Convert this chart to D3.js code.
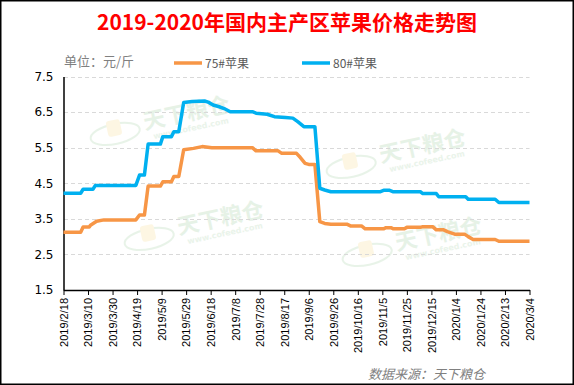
<!DOCTYPE html>
<html>
<head>
<meta charset="utf-8">
<script src="https://cdn.jsdelivr.net/npm/d3@7"></script>
<style>
  body { margin: 0; background: #fff; }
  svg { display: block; }
</style>
</head>
<body>
<div class="apple-chart"></div>
<script>
// 75# apple price (元/斤)
const dates75 = ["2019-02-18","2019-03-04","2019-03-06","2019-03-11","2019-03-12","2019-03-17","2019-03-23","2019-04-18",
  "2019-04-21","2019-04-25","2019-04-28","2019-05-08","2019-05-10","2019-05-17","2019-05-19","2019-05-23","2019-05-27",
  "2019-06-04","2019-06-11","2019-06-19","2019-07-22","2019-07-25","2019-08-12","2019-08-15","2019-08-27","2019-08-30",
  "2019-09-03","2019-09-06","2019-09-11","2019-09-15","2019-09-19","2019-09-24","2019-10-07","2019-10-10","2019-10-19",
  "2019-10-22","2019-11-06","2019-11-08","2019-11-12","2019-11-14","2019-11-23","2019-11-25","2019-12-06","2019-12-08",
  "2019-12-16","2019-12-19","2019-12-25","2019-12-28","2020-01-03","2020-01-11","2020-01-14","2020-01-18","2020-02-05",
  "2020-02-08","2020-03-04"];
const price75 = [3.12,3.12,3.27,3.27,3.32,3.43,3.47,3.47,
  3.61,3.61,4.42,4.42,4.54,4.54,4.69,4.69,5.44,
  5.48,5.53,5.50,5.50,5.41,5.41,5.34,5.34,5.23,
  5.06,5.03,5.03,3.42,3.37,3.35,3.35,3.30,3.30,
  3.22,3.22,3.25,3.25,3.22,3.22,3.26,3.26,3.28,
  3.28,3.19,3.19,3.14,3.07,3.07,3.00,2.92,2.92,
  2.87,2.87];

// 80# apple price (元/斤)
const dates80 = ["2019-02-18","2019-03-04","2019-03-06","2019-03-14","2019-03-16","2019-04-18","2019-04-21","2019-04-25",
  "2019-04-28","2019-05-08","2019-05-10","2019-05-17","2019-05-19","2019-05-23","2019-05-27","2019-06-03","2019-06-13",
  "2019-06-16","2019-06-20","2019-06-25","2019-06-29","2019-07-04","2019-07-22","2019-07-25","2019-08-03","2019-08-09",
  "2019-08-18","2019-08-24","2019-08-28","2019-09-02","2019-09-11","2019-09-15","2019-09-19","2019-09-24","2019-11-03",
  "2019-11-06","2019-11-11","2019-11-14","2019-12-06","2019-12-08","2019-12-19","2019-12-21","2020-01-12","2020-01-14",
  "2020-02-05","2020-02-08","2020-03-04"];
const price80 = [4.22,4.22,4.33,4.33,4.44,4.44,4.73,4.73,
  5.60,5.60,5.81,5.81,5.95,5.95,6.77,6.80,6.81,
  6.78,6.70,6.65,6.60,6.51,6.51,6.47,6.44,6.37,
  6.35,6.33,6.23,6.09,6.09,4.36,4.31,4.26,4.26,
  4.30,4.30,4.26,4.26,4.21,4.21,4.12,4.12,4.05,
  4.05,3.96,3.96];

const seriesNames = ["75#苹果", "80#苹果"];
const yTicks = [1.5, 2.5, 3.5, 4.5, 5.5, 6.5, 7.5];
const xTickLabels = ["2019/2/18","2019/3/10","2019/3/30","2019/4/19","2019/5/9","2019/5/29","2019/6/18","2019/7/8",
  "2019/7/28","2019/8/17","2019/9/6","2019/9/26","2019/10/16","2019/11/5","2019/11/25","2019/12/15","2020/1/4",
  "2020/1/24","2020/2/13","2020/3/4"];

const width = 574, height = 385;
const colors = ["#F79646", "#00B0F0"];
const parseDay = d3.timeParse("%Y-%m-%d");
const parseTick = d3.timeParse("%Y/%m/%d");

const svg = d3.select(".apple-chart")
  .append("svg")
  .attr("width", width)
  .attr("height", height);

// outer frame
svg.append("rect")
  .attr("x", 0.75).attr("y", 0.75)
  .attr("width", width - 1.5).attr("height", height - 1.5)
  .attr("fill", "#fff").attr("stroke", "#000").attr("stroke-width", 1.5);

const x = d3.scaleTime()
  .domain([parseDay("2019-02-18"), parseDay("2020-03-04")])
  .range([63.5, 529.5]);
const y = d3.scaleLinear().domain([1.5, 7.5]).range([290, 76.5]);

// watermarks (faint logo + site name)
const marks = [[92, 145], [328, 178], [126, 250], [344, 266]];
marks.forEach(([mx, my]) => {
  const g = svg.append("g").attr("transform", `translate(${mx},${my}) rotate(-12)`).attr("opacity", 0.5);
  g.append("ellipse").attr("cx", 25).attr("cy", -6).attr("rx", 25).attr("ry", 10)
    .attr("fill", "none").attr("stroke", "#d3e9d3").attr("stroke-width", 2);
  g.append("rect").attr("x", 18).attr("y", -20).attr("width", 14).attr("height", 16).attr("rx", 3)
    .attr("fill", "#fcefc8");
  g.append("text").attr("x", 55).attr("y", -4)
    .attr("font-family", "Noto Sans CJK SC").attr("font-weight", "bold").attr("font-size", 22)
    .attr("fill", "#cfe6cf").text("天下粮仓");
  g.append("text").attr("x", 62).attr("y", 7)
    .attr("font-family", "DejaVu Sans").attr("font-weight", "bold").attr("font-size", 8)
    .attr("fill", "#d6ead6").text("www.cofeed.com");
});

// grid lines
svg.append("g")
  .selectAll("line")
  .data(yTicks.slice(1))
  .enter()
  .append("line")
  .attr("x1", 64).attr("x2", 529.5)
  .attr("y1", d => Math.round(y(d)) + 0.5)
  .attr("y2", d => Math.round(y(d)) + 0.5)
  .attr("stroke", "#d9d9d9")
  .attr("stroke-dasharray", "4,3");

// y axis
const yAxis = svg.append("g")
  .attr("transform", "translate(63.5,0)")
  .call(d3.axisLeft(y).tickValues(yTicks).tickSize(0).tickPadding(10).tickFormat(d3.format(".1f")));
yAxis.select(".domain").attr("stroke", "#000").attr("stroke-width", 1.5);
yAxis.selectAll("text")
  .attr("font-family", "DejaVu Sans").attr("font-size", 12).attr("fill", "#000");

// x axis
const xAxis = svg.append("g")
  .attr("transform", "translate(0,290)")
  .call(d3.axisBottom(x)
    .tickValues(xTickLabels.map(parseTick))
    .tickSize(5)
    .tickSizeOuter(0)
    .tickFormat((d, i) => xTickLabels[i]));
xAxis.select(".domain").attr("stroke", "#000").attr("stroke-width", 1.5);
xAxis.selectAll(".tick line").attr("stroke", "#000");
xAxis.selectAll("text")
  .attr("transform", "rotate(-90)")
  .attr("text-anchor", "end")
  .attr("x", -8).attr("y", 0).attr("dy", "0.35em")
  .attr("font-family", "Liberation Sans").attr("font-size", 11).attr("fill", "#000");

// price lines
const line = d3.line().x(d => x(d[0])).y(d => y(d[1]));
const series = [
  dates75.map((d, i) => [parseDay(d), price75[i]]),
  dates80.map((d, i) => [parseDay(d), price80[i]])
];
svg.selectAll(".price")
  .data(series)
  .enter()
  .append("path")
  .attr("class", "price")
  .attr("d", line)
  .attr("fill", "none")
  .attr("stroke", (d, i) => colors[i])
  .attr("stroke-width", 3.5)
  .attr("stroke-linejoin", "round");

// title
svg.append("text")
  .attr("x", 287).attr("y", 30)
  .attr("text-anchor", "middle")
  .attr("font-family", "Noto Sans CJK SC").attr("font-weight", "bold").attr("font-size", 21)
  .attr("fill", "#FF0000")
  .text("2019-2020年国内主产区苹果价格走势图");

// unit
svg.append("text")
  .attr("x", 64).attr("y", 66)
  .attr("font-family", "Noto Sans CJK SC").attr("font-size", 13)
  .attr("fill", "#808080")
  .text("单位：元/斤");

// legend
const legendX = [174, 302];
seriesNames.forEach((name, i) => {
  svg.append("line")
    .attr("x1", legendX[i]).attr("x2", legendX[i] + 28)
    .attr("y1", 63).attr("y2", 63)
    .attr("stroke", colors[i]).attr("stroke-width", 3.5);
  svg.append("text")
    .attr("x", legendX[i] + 31).attr("y", 67.5)
    .attr("font-family", "Noto Sans CJK SC").attr("font-size", 12)
    .attr("fill", "#595959")
    .text(name);
});

// source
svg.append("text")
  .attr("x", 368).attr("y", 379)
  .attr("font-family", "Noto Sans CJK SC").attr("font-size", 13).attr("font-style", "italic")
  .attr("fill", "#808080")
  .text("数据来源：天下粮仓");
</script>
</body>
</html>
